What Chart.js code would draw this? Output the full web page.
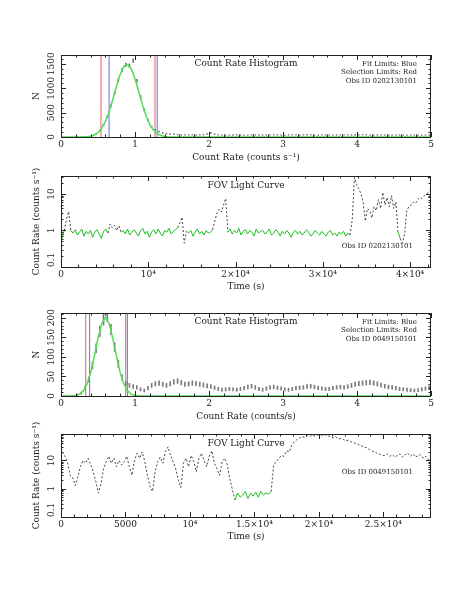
<!DOCTYPE html>
<html>
<head>
<meta charset="utf-8">
<script src="https://cdn.jsdelivr.net/npm/chart.js@4.4.1/dist/chart.umd.min.js"></script>
<style>
  html, body { margin: 0; padding: 0; background: #fff; }
  #wrap { position: relative; width: 463px; height: 599px; }
  #wrap canvas { position: absolute; left: 0; top: 0; }
</style>
</head>
<body>
<div id="wrap">
  <canvas id="hist1" width="463" height="599"></canvas>
  <canvas id="lc1" width="463" height="599"></canvas>
  <canvas id="hist2" width="463" height="599"></canvas>
  <canvas id="lc2" width="463" height="599"></canvas>
</div>
<script>
// ---- data ----
const histStart = 0;
const histBin = 0.05;

// obs 0202130101
const hist1Counts = [
  0, 0, 0, 0, 1, 2, 5, 12, 30, 66,
  130, 245, 410, 640, 900, 1160, 1370, 1475, 1460, 1560,
  1150, 820, 560, 350, 210, 150, 110, 85, 70, 60,
  55, 50, 46, 44, 42, 45, 40, 43, 47, 62,
  85, 58, 44, 40, 42, 38, 41, 44, 40, 37,
  40, 43, 45, 41, 38, 42, 44, 46, 43, 40,
  38, 41, 44, 42, 39, 43, 46, 44, 41, 39,
  42, 45, 40, 38, 41, 43, 45, 42, 39, 41,
  44, 47, 43, 40, 38, 42, 45, 41, 39, 37,
  40, 42, 39, 36, 38, 41, 37, 35, 38, 36
];
const fit1X = [0, 0.2, 0.3, 0.35, 0.4, 0.45, 0.5, 0.55, 0.6, 0.65, 0.7, 0.75, 0.8, 0.85, 0.9, 0.95,
  1.0, 1.05, 1.1, 1.15, 1.2, 1.25, 1.3, 1.35, 1.4, 1.45, 1.5, 1.6, 5];
const fit1Y = [0, 0, 3, 7, 18, 42, 91, 179, 318, 517, 768, 1040, 1284, 1447, 1488, 1395,
  1193, 931, 663, 431, 255, 138, 68, 30, 12, 5, 2, 0, 0];
const sel1Limits = [0.54, 1.27];
const fit1Limits = [0.65, 1.30];

const lc1Bin = 250;
const lc1Rate = [
  0.6, 1.0, 2.0, 3.3, 1.0,
  0.85, 1.05, 0.75, 0.9, 1.1, 0.7, 0.95, 0.8, 1.0, 0.65, 0.9, 1.05, 0.8, 0.6, 0.95, 1.1, 0.85,
  1.5, 1.2, 1.4, 1.0, 1.35, 0.9,
  1.0, 0.8, 1.1, 0.75, 0.9, 1.05, 0.85, 0.7, 1.0, 1.15, 0.8, 0.95, 0.65, 0.9, 1.05, 0.8, 1.1, 0.85,
  0.7, 1.0, 0.9, 1.15, 0.8, 0.95, 1.05,
  1.2, 1.6, 2.3, 0.45, 0.95,
  0.85, 1.0, 0.7, 0.9, 1.1, 0.8, 0.95, 0.75, 1.0, 0.85, 0.9, 1.05,
  1.8, 3.0, 3.8, 3.2, 5.0, 7.5,
  0.9, 1.1, 0.8, 1.0, 0.85, 1.15, 0.75, 0.95, 1.05, 0.8,
  1.0, 0.9, 0.7, 1.1, 0.85, 0.95, 1.0, 0.8, 0.9, 1.1,
  0.75, 0.85, 1.05, 0.9, 0.7, 0.95, 0.8, 1.0, 0.85, 0.65,
  0.9, 1.0, 0.8, 0.95, 0.75, 0.85, 1.05, 0.9, 0.7, 0.8,
  1.0, 0.85, 0.75, 0.95, 0.8, 0.7, 0.9, 1.0, 0.75, 0.85,
  0.7, 0.9, 0.8, 0.95, 0.7, 0.85, 0.75,
  2.0, 28, 18, 14, 10, 6, 1.8, 4, 3.5, 2.2, 4.5, 3.5, 7, 4, 11, 5, 8, 4.5, 9, 4, 6,
  0.9, 0.6, 0.45, 0.8,
  3.5, 4.5, 5, 6, 5.5, 7, 8, 7.5, 9, 10, 11, 13
];

// obs 0049150101
const hist2Counts = [
  0, 0, 0, 1, 3, 7, 20, 42, 78, 122,
  165, 195, 204, 170, 125, 82, 48, 32, 27, 24,
  22, 17, 14, 20, 27, 31, 33, 30, 27, 31,
  36, 38, 34, 30, 31, 33, 32, 30, 28, 26,
  24, 21, 18, 16, 17, 18, 17, 16, 18, 20,
  23, 25, 22, 18, 16, 19, 22, 23, 21, 19,
  17, 16, 18, 20, 21, 22, 24, 25, 23, 21,
  19, 18, 18, 20, 22, 23, 22, 24, 27, 30,
  32, 33, 34, 35, 33, 31, 28, 25, 23, 22,
  20, 18, 17, 16, 15, 14, 15, 17, 19, 21
];
const fit2X = [0, 0.1, 0.15, 0.2, 0.25, 0.3, 0.35, 0.4, 0.45, 0.5, 0.55, 0.6, 0.65, 0.7,
  0.75, 0.8, 0.85, 0.9, 0.95, 1.0, 1.05, 1.1, 5];
const fit2Y = [0, 0, 0.4, 1.5, 4.8, 13, 30, 59, 101, 147, 185, 200, 185, 147,
  101, 59, 30, 13, 4.8, 1.5, 0.4, 0, 0];
const sel2Limits = [0.334, 0.874];
const fit2Limits = [0.387, 0.897];

const lc2Bin = 200;
const lc2Rate = [
  20, 14, 9, 3, 2.5,   1.3, 2.5, 6, 10, 8,   12, 7, 4, 1.8, 0.7,   1.5, 5, 9, 14, 8,
  12, 6, 10, 7, 9,     14, 6, 3, 10, 18,     12, 20, 9, 3, 1.2,    0.8, 4, 9, 13, 8,
  20, 30, 15, 9, 5,    2, 1.1, 8, 12, 6,     15, 9, 4, 12, 18,     10, 6, 14, 22, 8,
  5, 3, 9, 12, 7,      2.2, 0.9, 0.4, 0.7, 0.5,   0.6, 0.8, 0.45, 0.7, 0.55,
  0.75, 0.5, 0.8, 0.6, 0.7,   0.65, 0.8, 7, 9, 12,
  15, 14, 22, 20, 35,  45, 55, 62, 70, 65,   75, 70, 80, 72, 78,   82, 76, 80, 74, 70,
  62, 68, 58, 60, 55,  50, 52, 45, 42, 40,   36, 33, 30, 28, 25,   22, 20, 18, 17, 15,
  15, 17, 14, 16, 13,  15, 17, 13, 16, 18,   14, 17, 13, 15, 16,   12, 14, 11, 10
];

// axes
const histXTicks = [0, 1, 2, 3, 4, 5];
const histXLabels = ['0', '1', '2', '3', '4', '5'];
const hist1YTicks = [0, 500, 1000, 1500];
const hist1YLabels = ['0', '500', '1000', '1500'];
const hist2YTicks = [0, 50, 100, 150, 200];
const hist2YLabels = ['0', '50', '100', '150', '200'];
const lc1XTicks = [0, 10000, 20000, 30000, 40000];
const lc1XLabels = ['0', '10\u2074', '2\u00d710\u2074', '3\u00d710\u2074', '4\u00d710\u2074'];
const lc2XTicks = [0, 5000, 10000, 15000, 20000, 25000];
const lc2XLabels = ['0', '5000', '10\u2074', '1.5\u00d710\u2074', '2\u00d710\u2074', '2.5\u00d710\u2074'];
const lcYTicks = [0.1, 1, 10];
const lcYLabels = ['0.1', '1', '10'];

// ---- drawing ----
const ink = '#222';
const green = '#1fbf1f';
const fitGreen = '#55dd55';
const red = 'rgba(225, 70, 70, 0.85)';
const blue = 'rgba(80, 80, 240, 0.85)';
Chart.defaults.font.family = "'DejaVu Serif', serif";
Chart.defaults.font.size = 9;
Chart.defaults.color = ink;

function linearMinors(min, max, step) {
  const out = [];
  for (let v = min; v <= max + 1e-9; v += step) out.push(v);
  return out;
}
function logMinors(min, max) {
  const out = [];
  for (let d = 0.01; d <= max; d *= 10) {
    for (let k = 2; k <= 9; k++) {
      const v = k * d;
      if (v > min && v < max) out.push(v);
    }
  }
  return out;
}

// PGPLOT style box: inward ticks on all four sides, rotated y labels, panel texts
const frame = {
  id: 'frame',
  afterDraw(chart, args, o) {
    const { ctx, chartArea: a, scales: { x, y } } = chart;
    ctx.save();
    ctx.strokeStyle = ink;
    ctx.lineWidth = 1;
    ctx.strokeRect(a.left + 0.5, a.top + 0.5, a.right - a.left - 1, a.bottom - a.top);
    ctx.beginPath();
    const xt = (v, len) => {
      const p = Math.round(x.getPixelForValue(v)) + 0.5;
      ctx.moveTo(p, a.bottom); ctx.lineTo(p, a.bottom - len);
      ctx.moveTo(p, a.top); ctx.lineTo(p, a.top + len);
    };
    const yt = (v, len) => {
      const p = Math.round(y.getPixelForValue(v)) + 0.5;
      ctx.moveTo(a.left, p); ctx.lineTo(a.left + len, p);
      ctx.moveTo(a.right, p); ctx.lineTo(a.right - len, p);
    };
    o.xMinor.forEach(v => xt(v, 2.5));
    o.xMajor.forEach(v => xt(v, 5));
    o.yMinor.forEach(v => yt(v, 2.5));
    o.yMajor.forEach(v => yt(v, 5));
    ctx.stroke();

    ctx.fillStyle = ink;
    ctx.font = "9px 'DejaVu Serif'";
    ctx.textAlign = 'center';
    ctx.textBaseline = 'middle';
    o.yMajor.forEach((v, i) => {
      const label = o.yLabels[i];
      let p = y.getPixelForValue(v);
      if (o.clamp) {
        const half = ctx.measureText(label).width / 2;
        p = Math.min(Math.max(p, a.top + half), a.bottom - half);
      }
      ctx.save();
      ctx.translate(52, p);
      ctx.rotate(-Math.PI / 2);
      ctx.fillText(label, 0, 0);
      ctx.restore();
    });

    o.notes.forEach(n => {
      ctx.font = n.size + "px 'DejaVu Serif'";
      ctx.textAlign = n.align;
      ctx.fillText(n.text, n.x, n.y);
    });
    ctx.restore();
  }
};

function xAxis(min, max, ticks, labels, title, height) {
  return {
    type: 'linear', min, max, offset: false,
    grid: { display: false, drawTicks: false },
    border: { display: false },
    afterBuildTicks: s => { s.ticks = ticks.map(v => ({ value: v })); },
    afterFit: s => { s.height = height; },
    ticks: { autoSkip: false, maxRotation: 0, padding: 2, callback: (v, i) => labels[i] },
    title: { display: true, text: title, padding: { top: 0, bottom: 0 } }
  };
}
function yAxis(type, min, max, ticks, title) {
  return {
    type, min, max,
    grid: { display: false, drawTicks: false },
    border: { display: false },
    afterBuildTicks: s => { s.ticks = ticks.map(v => ({ value: v })); },
    afterFit: s => { s.width = 61; },
    ticks: { display: false },
    title: { display: true, text: title, padding: { top: 31, bottom: 0 } }
  };
}
function baseOptions(top, bottom, xh) {
  return {
    responsive: false, animation: false, events: [],
    layout: { padding: { top: top, bottom: 599 - bottom - xh, left: 0, right: 32 } },
    elements: { point: { radius: 0 } }
  };
}

function errorBars(counts) {
  return counts.map((n, i) => {
    const e = Math.sqrt(n);
    return { x: histStart + (i + 0.5) * histBin, y: [n - e, n + e] };
  });
}
function limitLine(v, yMax, color) {
  return { type: 'line', data: [{ x: v, y: 0 }, { x: v, y: yMax }], borderColor: color, borderWidth: 1 };
}

function histChart(id, top, bottom, counts, fitX, fitY, sel, fit, yMax, yTicks, yLabels, xTitle, obs) {
  const opts = baseOptions(top, bottom, 26);
  opts.scales = {
    x: xAxis(0, 5, histXTicks, histXLabels, xTitle, 26),
    y: yAxis('linear', 0, yMax, yTicks, 'N')
  };
  opts.plugins = {
    legend: { display: false }, tooltip: { enabled: false },
    frame: {
      xMajor: histXTicks, xMinor: linearMinors(0, 5, 0.2),
      yMajor: yTicks, yMinor: linearMinors(0, yMax, yTicks[1] / 5),
      yLabels: yLabels, clamp: false,
      notes: [
        { text: 'Count Rate Histogram', x: 246, y: top + 9, size: 9, align: 'center' },
        { text: 'Fit Limits: Blue', x: 417, y: top + 9, size: 7, align: 'right' },
        { text: 'Selection Limits: Red', x: 417, y: top + 17.5, size: 7, align: 'right' },
        { text: 'Obs ID ' + obs, x: 417, y: top + 26, size: 7, align: 'right' }
      ]
    }
  };
  return new Chart(document.getElementById(id), {
    type: 'line',
    data: {
      datasets: [
        { data: fitX.map((v, i) => ({ x: v, y: fitY[i] })), borderColor: fitGreen, borderWidth: 1.5 },
        { type: 'bar', data: errorBars(counts), backgroundColor: '#7a7a7a', barThickness: 1 },
        limitLine(sel[0], yMax, red), limitLine(sel[1], yMax, red),
        limitLine(fit[0], yMax, blue), limitLine(fit[1], yMax, blue)
      ]
    },
    options: opts,
    plugins: [frame]
  });
}

function lcChart(id, top, bottom, rates, bin, sel, xMax, yMax, xTicks, xLabels, xMinorStep, obs, obsY) {
  const inSel = r => r >= sel[0] && r <= sel[1];
  const good = c => inSel(c.p0.parsed.y) && inSel(c.p1.parsed.y);
  const opts = baseOptions(top, bottom, 25);
  opts.scales = {
    x: xAxis(0, xMax, xTicks, xLabels, 'Time (s)', 25),
    y: yAxis('logarithmic', 0.1, yMax, lcYTicks, 'Count Rate (counts s\u207b\u00b9)')
  };
  opts.plugins = {
    legend: { display: false }, tooltip: { enabled: false },
    frame: {
      xMajor: xTicks, xMinor: linearMinors(0, xMax, xMinorStep),
      yMajor: lcYTicks, yMinor: logMinors(0.1, yMax),
      yLabels: lcYLabels, clamp: true,
      notes: [
        { text: 'FOV Light Curve', x: 246, y: top + 10, size: 9, align: 'center' },
        { text: 'Obs ID ' + obs, x: 413, y: obsY, size: 7, align: 'right' }
      ]
    }
  };
  return new Chart(document.getElementById(id), {
    type: 'line',
    data: {
      datasets: [{
        data: rates.map((r, i) => ({ x: (i + 0.5) * bin, y: r })),
        borderColor: '#444', borderWidth: 1,
        segment: {
          borderColor: c => good(c) ? green : '#444',
          borderDash: c => good(c) ? [] : [2, 2]
        }
      }]
    },
    options: opts,
    plugins: [frame]
  });
}

histChart('hist1', 55, 137, hist1Counts, fit1X, fit1Y, sel1Limits, fit1Limits, 1680,
  hist1YTicks, hist1YLabels, 'Count Rate (counts s\u207b\u00b9)', '0202130101');
lcChart('lc1', 176, 267, lc1Rate, lc1Bin, sel1Limits, 42400, 31, lc1XTicks, lc1XLabels, 2000,
  '0202130101', 246);
histChart('hist2', 313, 396, hist2Counts, fit2X, fit2Y, sel2Limits, fit2Limits, 212,
  hist2YTicks, hist2YLabels, 'Count Rate (counts/s)', '0049150101');
lcChart('lc2', 434, 517, lc2Rate, lc2Bin, sel2Limits, 28700, 86, lc2XTicks, lc2XLabels, 1000,
  '0049150101', 472);
</script>
</body>
</html>
